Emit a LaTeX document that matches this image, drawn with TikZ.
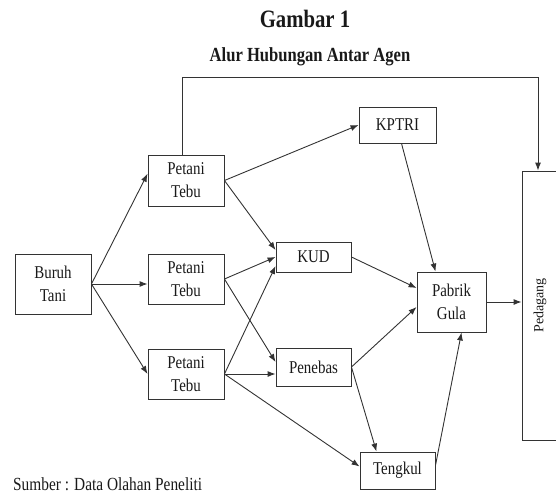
\documentclass[tikz,border=0pt]{standalone}
\usepackage{fontspec}
\setmainfont{Liberation Serif}[FakeStretch=0.83]
\newfontfamily\tegakfont{Liberation Serif}
\usetikzlibrary{arrows.meta,calc}

\begin{document}
\begin{tikzpicture}[x=1pt,y=-1pt]
		\tikzstyle{every node}=[font=\fontsize{18}{23}\selectfont, text=black!90]
		\tikzstyle{agen}=[draw=black!80, line width=0.9pt, inner sep=0pt, align=center]
		\tikzstyle{alur}=[draw=black!80, line width=0.9pt, -{Latex[length=8pt,width=6pt]}]
		\useasboundingbox (0,0) rectangle (556,493);
		\clip (0,0) rectangle (556,493);
		% judul
		\node [font=\bfseries\fontsize{25}{28}\selectfont] (judul) at (305,19) {Gambar 1};
		\node [font=\bfseries\fontsize{20}{24}\selectfont] (subjudul) at (310,57) {Alur Hubungan Antar Agen};
		% kotak agen
		\node [agen, minimum width=76pt, minimum height=60pt] (buruh) at (53,284) {Buruh\\Tani};
		\node [agen, minimum width=76pt, minimum height=51pt] (petani1) at (186,180.5) {Petani\\Tebu};
		\node [agen, minimum width=76pt, minimum height=50pt] (petani2) at (186,279) {Petani\\Tebu};
		\node [agen, minimum width=76pt, minimum height=50pt] (petani3) at (186,374) {Petani\\Tebu};
		\node [agen, minimum width=77pt, minimum height=36pt] (kptri) at (397.5,125) {KPTRI};
		\node [agen, minimum width=75pt, minimum height=30pt] (kud) at (313.5,257) {KUD};
		\node [agen, minimum width=75pt, minimum height=38pt] (penebas) at (313.5,367) {Penebas};
		\node [agen, minimum width=69pt, minimum height=60pt] (pabrik) at (451.5,302) {Pabrik\\Gula};
		\node [agen, minimum width=75pt, minimum height=37pt] (tengkul) at (397.5,470.5) {Tengkul};
		\node [agen, minimum width=36pt, minimum height=269pt] (pedagang) at (540,305.5) {\rotatebox{90}{\tegakfont\fontsize{14}{16}\selectfont Pedagang}};
		\node [anchor=west, inner sep=0pt, font=\fontsize{18.5}{22}\selectfont] (sumber) at (13,484) {Sumber : Data Olahan Peneliti};
		% panah
		\coordinate (atas) at (0,77);
		\draw [alur] (buruh.east) -- (petani1.170);
		\draw [alur] (buruh.east) -- (buruh.east -| petani2.west);
		\draw [alur] (buruh.east) -- (petani3.west);
		\draw [alur] (petani1.east) -- (kptri.west);
		\draw [alur] (petani1.east) -- ([yshift=7pt]kud.west);
		\draw [alur] (petani2.east) -- (kud.west);
		\draw [alur] (petani2.east) -- ([yshift=5pt]penebas.west);
		\draw [alur] (petani3.east) -- ([yshift=-9pt]kud.west);
		\draw [alur] (petani3.east) -- (petani3.east -| penebas.west);
		\draw [alur] (petani3.east) -- ([yshift=4pt]tengkul.west);
		\draw [alur] ([xshift=-4pt]petani1.north) -- ([xshift=-4pt]petani1.north |- atas) -| ([xshift=-2pt]pedagang.north);
		\draw [alur] ([xshift=4pt]kptri.south) -- ([xshift=-16pt]pabrik.north);
		\draw [alur] (kud.east) -- ([yshift=14pt]pabrik.west);
		\draw [alur] (penebas.east) -- ([yshift=-5pt]pabrik.west);
		\draw [alur] (penebas.east) -- ([xshift=-21pt]tengkul.north);
		\draw [alur] ([yshift=5pt]tengkul.east) -- ([xshift=10pt]pabrik.south);
		\draw [alur] (pabrik.east) -- (pabrik.east -| pedagang.west);
	\end{tikzpicture}
\end{document}
